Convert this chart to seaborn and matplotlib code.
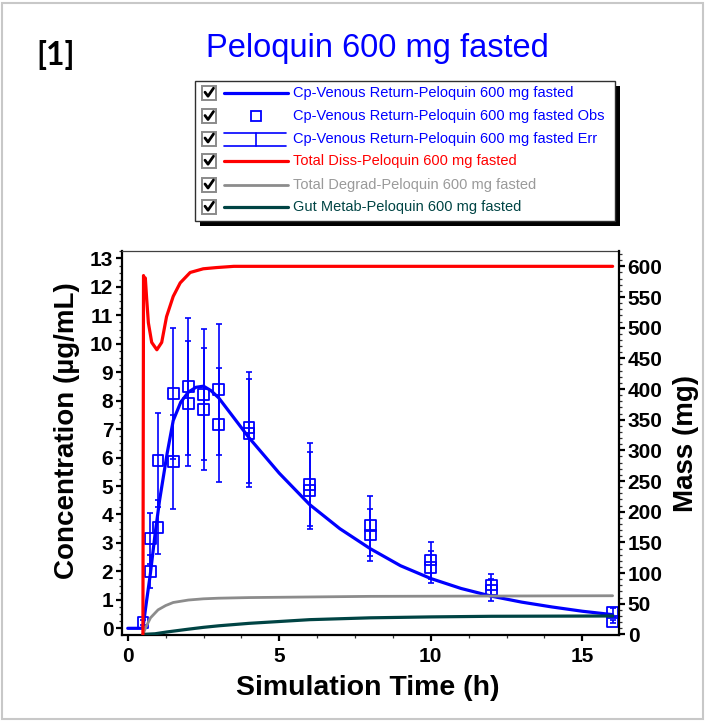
import numpy as np
import pandas as pd
import seaborn as sns
import matplotlib
matplotlib.use('Agg')
import matplotlib.pyplot as plt
from matplotlib.ticker import MultipleLocator
from matplotlib.patches import Rectangle
from matplotlib.lines import Line2D

# predicted plasma concentration (ug/mL)
t_pred = [0, 0.5, 0.6, 0.75, 0.9, 1.05, 1.3, 1.5, 1.75, 2.0, 2.25, 2.5, 2.75, 3.0,
          3.5, 4, 5, 6, 7, 8, 9, 10, 11, 12, 13, 14, 15, 16]
c_pred = [0, 0, 0.8, 1.95, 3.3, 4.5, 6.15, 7.3, 7.95, 8.3, 8.47, 8.51, 8.35, 8.1,
          7.4, 6.7, 5.45, 4.35, 3.5, 2.8, 2.2, 1.75, 1.4, 1.13, 0.92, 0.75, 0.6, 0.48]

# observed concentrations with SD
t_obs = [0.5, 0.75, 0.75, 1.0, 1.0, 1.5, 1.5, 2.0, 2.0, 2.5, 2.5, 3.0, 3.0,
         4.0, 4.0, 6.0, 6.0, 8.0, 8.0, 10.0, 10.0, 12.0, 12.0, 16.0, 16.0]
c_obs = [0.2, 2.0, 3.15, 5.9, 3.55, 8.25, 5.85, 8.5, 7.9, 8.22, 7.7, 8.4, 7.15,
         7.05, 6.85, 5.05, 4.85, 3.6, 3.28, 2.4, 2.15, 1.52, 1.35, 0.55, 0.25]
sd_obs = [0.1, 0.58, 0.9, 1.65, 0.95, 2.3, 1.65, 2.4, 2.2, 2.3, 2.15, 2.3, 2.0,
          1.95, 1.9, 1.45, 1.35, 1.05, 0.9, 0.65, 0.55, 0.38, 0.4, 0.15, 0.05]

# mass curves (mg)
t_diss = [0.5, 0.52, 0.55, 0.58, 0.62, 0.68, 0.79, 0.96, 1.12, 1.28, 1.5, 1.73,
          2.06, 2.49, 2.93, 3.5, 16.0]
m_diss = [0, 585, 567, 581, 550, 508, 476, 464, 476, 518, 551, 573,
          590, 596, 598, 600, 600]

t_degr = [0.5, 0.6, 0.75, 1.0, 1.25, 1.5, 2.0, 2.5, 3, 4, 6, 8, 12, 16]
m_degr = [0, 12, 27, 40, 47, 52, 56, 58, 59, 60, 61, 62, 62.5, 63]

t_gut = [0.5, 0.9, 1.3, 2.0, 2.5, 3.0, 4.0, 5.0, 6.0, 8.0, 10.0, 12.0, 16.0]
m_gut = [0, 1, 4, 8.5, 11.5, 14, 18, 21, 24, 27, 28.5, 29.5, 30]

legend_labels = ['Cp-Venous Return-Peloquin 600 mg fasted',
                 'Cp-Venous Return-Peloquin 600 mg fasted Obs',
                 'Cp-Venous Return-Peloquin 600 mg fasted Err',
                 'Total Diss-Peloquin 600 mg fasted',
                 'Total Degrad-Peloquin 600 mg fasted',
                 'Gut Metab-Peloquin 600 mg fasted']

BLUE = '#0000FF'
RED = '#FF0000'
GREY = '#8C8C8C'
TEAL = '#004444'

sns.set_theme(style='ticks')
plt.rcParams['font.family'] = ['Liberation Sans', 'DejaVu Sans']
plt.rcParams['text.color'] = 'black'
plt.rcParams['axes.labelcolor'] = 'black'
plt.rcParams['xtick.color'] = 'black'
plt.rcParams['ytick.color'] = 'black'
plt.rcParams['xtick.labelcolor'] = 'black'
plt.rcParams['ytick.labelcolor'] = 'black'

W, H = 705, 721
fig = plt.figure(figsize=(W / 100, H / 100), dpi=100)
fig.patch.set_facecolor('white')

x0, x1, y0, y1 = 121.7, 619.3, 251, 635
ax = fig.add_axes([x0 / W, 1 - y1 / H, (x1 - x0) / W, (y1 - y0) / H])
ax2 = ax.twinx()

# concentration
sns.lineplot(x=t_pred, y=c_pred, ax=ax, color=BLUE, linewidth=2.3,
             sort=False, estimator=None, legend=False)
ax.errorbar(t_obs, c_obs, yerr=sd_obs, fmt='none', ecolor=BLUE,
            elinewidth=1.2, capsize=2.2, capthick=1.2)
sns.scatterplot(x=t_obs, y=c_obs, ax=ax, marker='s', s=60,
                facecolor='none', edgecolor=BLUE, linewidth=1.3, legend=False)

# mass
sns.lineplot(x=t_degr, y=m_degr, ax=ax2, color=GREY, linewidth=2.0,
             sort=False, estimator=None, legend=False)
sns.lineplot(x=t_gut, y=m_gut, ax=ax2, color=TEAL, linewidth=2.3,
             sort=False, estimator=None, legend=False)
sns.lineplot(x=t_diss, y=m_diss, ax=ax2, color=RED, linewidth=2.3,
             sort=False, estimator=None, legend=False)

ax.set_xlim(-0.2, 16.22)
ax.set_ylim(-0.235, 13.26)
ax2.set_ylim(-1, 625)

ax.set_xticks([0, 5, 10, 15])
ax.xaxis.set_minor_locator(MultipleLocator(1.25))
ax.set_yticks(range(0, 14))
ax.yaxis.set_minor_locator(MultipleLocator(0.25))
ax2.set_yticks(range(0, 601, 50))
ax2.yaxis.set_minor_locator(MultipleLocator(10))

for a in (ax, ax2):
    a.tick_params(which='major', direction='out', length=4.5, width=1.6,
                  labelsize=15, pad=1.5, color='black', labelcolor='black')
    a.tick_params(which='minor', direction='out', length=2.2, width=0.9,
                  color='#333333')
    for lab in a.get_xticklabels() + a.get_yticklabels():
        lab.set_fontweight('bold')
ax.tick_params(axis='x', pad=4)
ax.set_xlabel('')
ax.set_ylabel('')
ax2.set_ylabel('')

for a in (ax, ax2):
    for s in a.spines.values():
        s.set_visible(False)
ax.spines['left'].set_visible(True)
ax.spines['bottom'].set_visible(True)
ax.spines['top'].set_visible(True)
ax2.spines['right'].set_visible(True)
ax.spines['left'].set_linewidth(1.6)
ax.spines['bottom'].set_linewidth(1.6)
ax2.spines['right'].set_linewidth(1.6)
ax.spines['top'].set_linewidth(0.9)
ax.spines['top'].set_color('#404040')
for s in ('left', 'bottom'):
    ax.spines[s].set_color('black')
ax2.spines['right'].set_color('black')

# axis labels
fig.text(67 / W, 1 - 431 / H, 'Concentration (µg/mL)', rotation=90,
         ha='center', va='center', fontsize=20, fontweight='bold', color='black')
fig.text(686 / W, 1 - 443.5 / H, 'Mass (mg)', rotation=90,
         ha='center', va='center', fontsize=20, fontweight='bold', color='black')
fig.text(368 / W, 1 - 688 / H, 'Simulation Time (h)',
         ha='center', va='center', fontsize=20.5, fontweight='bold', color='black')

# title and panel tag
fig.text(377 / W, 1 - 48 / H, 'Peloquin 600 mg fasted', color=BLUE,
         ha='center', va='center', fontsize=23.5)
fig.text(56 / W, 1 - 55 / H, '[1]', ha='center', va='center', fontsize=23,
         fontweight='bold', color='black', family=['Lato', 'DejaVu Sans'])

# overlay in pixel coords for legend box and outer frame
ov = fig.add_axes([0, 0, 1, 1], zorder=5)
ov.set_xlim(0, W)
ov.set_ylim(H, 0)
ov.axis('off')

ov.add_patch(Rectangle((2, 2.5), W - 4, H - 5, fill=False,
                       edgecolor='#C8C8C8', linewidth=1.5))

lx0, ly0, lw, lh = 195, 81, 420, 140
ov.add_patch(Rectangle((lx0 + 5, ly0 + 5), lw, lh, facecolor='black',
                       edgecolor='black', linewidth=0))
ov.add_patch(Rectangle((lx0, ly0), lw, lh, facecolor='white',
                       edgecolor='#303030', linewidth=1.0))

rows_y = [92.7, 116, 138.5, 160.7, 184.5, 206.7]
text_colors = [BLUE, BLUE, BLUE, RED, '#9A9A9A', TEAL]
for i, yy in enumerate(rows_y):
    ov.add_patch(Rectangle((202, yy - 7), 14, 14, facecolor='white',
                           edgecolor='#8A8A8A', linewidth=1.4))
    ov.add_line(Line2D([205, 208, 213.5], [yy - 0.5, yy + 3.5, yy - 4.5],
                       color='black', linewidth=2.0))
    ov.text(293, yy, legend_labels[i], color=text_colors[i], fontsize=10.5,
            ha='left', va='center')

ov.add_line(Line2D([224, 288], [rows_y[0]] * 2, color=BLUE, linewidth=2.3))
ov.add_line(Line2D([256], [rows_y[1]], marker='s', markersize=7.7,
                   markerfacecolor='none', markeredgecolor=BLUE,
                   markeredgewidth=1.3))
ov.add_line(Line2D([224, 286], [132.5, 132.5], color=BLUE, linewidth=1.2))
ov.add_line(Line2D([224, 286], [145.5, 145.5], color=BLUE, linewidth=1.2))
ov.add_line(Line2D([256, 256], [132.5, 145.5], color=BLUE, linewidth=1.2))
ov.add_line(Line2D([224, 288], [rows_y[3]] * 2, color=RED, linewidth=2.3))
ov.add_line(Line2D([224, 288], [rows_y[4]] * 2, color=GREY, linewidth=2.0))
ov.add_line(Line2D([224, 288], [rows_y[5]] * 2, color=TEAL, linewidth=2.3))

fig.savefig('out.png', dpi=100)
